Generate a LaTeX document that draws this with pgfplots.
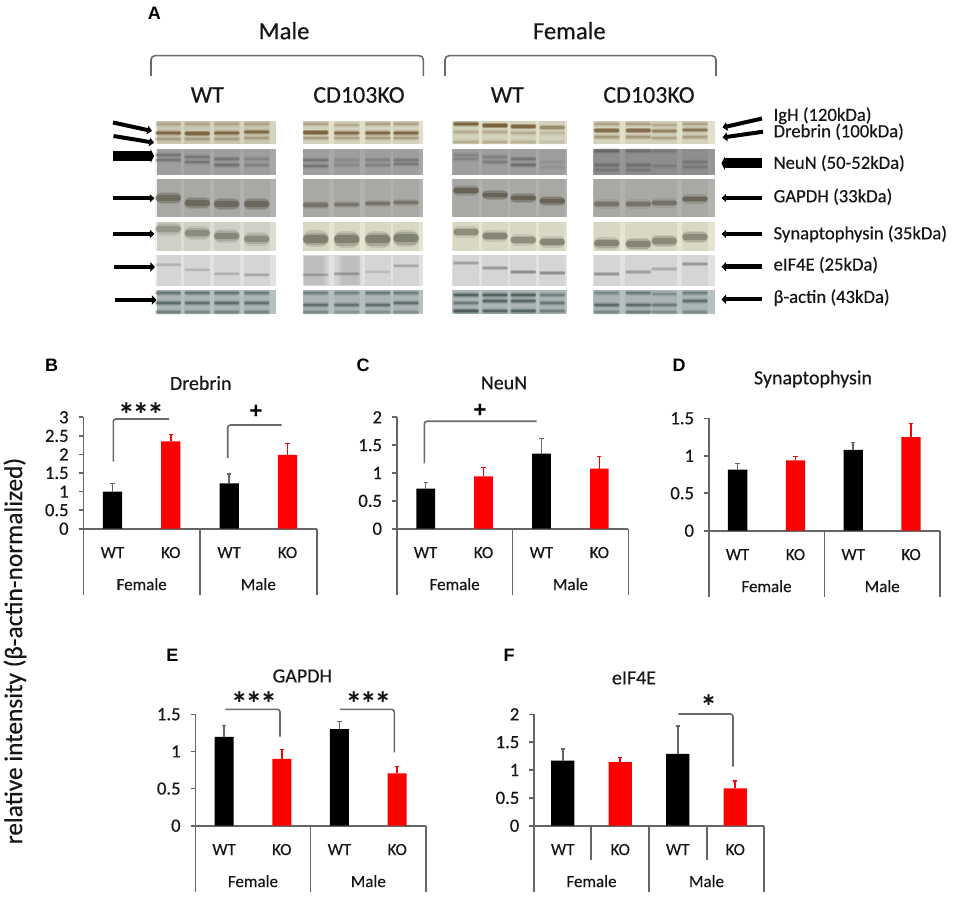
\documentclass[border=0pt]{standalone}
\usepackage{fontspec}
\usepackage{pgfplots}
\pgfplotsset{compat=1.18}
\usetikzlibrary{arrows.meta}
\setmainfont{Carlito}[FakeBold=0.35]
\newfontfamily\arialf{Liberation Sans}
\newfontfamily\djv{DejaVu Sans}
\newcommand\fs[1]{\fontsize{#1pt}{#1pt}\selectfont}
\definecolor{axg}{HTML}{666666}
\definecolor{txt}{HTML}{161616}
\definecolor{brk}{HTML}{6A6A6A}
\definecolor{dreb}{HTML}{D6D4BE}
\definecolor{drebk}{HTML}{E0DFC9}
\definecolor{neun}{HTML}{A8A9A6}
\definecolor{gapd}{HTML}{B2B2AF}
\definecolor{syna}{HTML}{DDDDD3}
\definecolor{synb}{HTML}{E6E5D1}
\definecolor{eif}{HTML}{E2E2E4}
\definecolor{act}{HTML}{B6C0C0}
\definecolor{brwn}{HTML}{6A4E28}
\definecolor{ngr}{HTML}{565656}
\definecolor{ggr}{HTML}{5C5648}
\definecolor{sgr}{HTML}{6B6C5A}
\definecolor{egr}{HTML}{6E6E6E}
\definecolor{agr}{HTML}{35484A}
\newcommand\panel[9]{%
\pgfmathsetmacro\pw{(#2-#1)*0.75}%
\pgfmathsetmacro\ph{(#3-#4)*0.75}%
\pgfmathsetmacro\px{#1*0.75}%
\pgfmathsetmacro\py{-#3*0.75}%
\pgfmathsetmacro\bw{#7*0.75}%
\begin{axis}[at={(\px pt,\py pt)},anchor=origin,scale only axis,width=\pw pt,height=\ph pt,
 xmin=0,xmax=4,ymin=0,ymax=#5,clip=false,
 axis x line=bottom,axis y line=left,axis line style={-,axg,line width=1.2pt},
 xtick={0.5,1.5,2.5,3.5},xticklabels={WT,KO,WT,KO},
 ytick={#6},tick align=outside,major tick length=3.5pt,
 xtick style={draw=none},ytick style={axg,line width=1.2pt},
 /pgf/number format/assume math mode=true,
 yticklabel style={font=\fs{14},text=txt,xshift=-4pt},
 xticklabel style={font=\fs{12.75},text=txt,anchor=base,yshift=-18.5pt},
 bar shift=0pt,
]
\addplot[ybar,bar width=\bw pt,fill=black,draw=none,
 error bars/.cd,y dir=plus,y explicit,
 error bar style={color=axg,line width=1.2pt},
 error mark options={rotate=90,mark size=1.6pt,axg,line width=1pt}] coordinates {#8};
\addplot[ybar,bar width=\bw pt,fill=red,draw=none,
 error bars/.cd,y dir=plus,y explicit,
 error bar style={color=red,line width=1.2pt},
 error mark options={rotate=90,mark size=1.6pt,red,line width=1pt}] coordinates {#9};
\draw[axg,line width=1.2pt] (axis cs:0,0) -- ([yshift=-49.5pt]axis cs:0,0);
\draw[axg,line width=1.2pt] (axis cs:2,0) -- ([yshift=-49.5pt]axis cs:2,0);
\draw[axg,line width=1.2pt] (axis cs:4,0) -- ([yshift=-49.5pt]axis cs:4,0);
\node[font=\fs{12.75},text=txt,anchor=base] at ([yshift=-46pt]axis cs:1,0) {Female};
\node[font=\fs{12.75},text=txt,anchor=base] at ([yshift=-46pt]axis cs:3,0) {Male};
\end{axis}}
% blurred band on the blots
\newcommand\band[5]{%
\draw[#4,line cap=round,line width={#3*1.7*0.75pt},opacity={0.22*#5}] (#1-13+0.85*#3,#2) -- (#1+13-0.85*#3,#2);
\draw[#4,line cap=round,line width={#3*1.25*0.75pt},opacity={0.35*#5}] (#1-13+0.625*#3,#2) -- (#1+13-0.625*#3,#2);
\draw[#4,line cap=round,line width={#3*0.8*0.75pt},opacity={0.7*#5}] (#1-12.5+0.4*#3,#2) -- (#1+12.5-0.4*#3,#2);}
\newcommand\blotbg[6]{%
\fill[#5] (#1,#2) rectangle (#3,#4);
\foreach \c in #6 {\fill[black,opacity=0.055] (\c-13,#2) rectangle (\c+13,#4);}}
\newcommand\LMW{168.3,197.3,226.7,256.7}
\newcommand\LMK{315.7,346.7,377.7,406}
\newcommand\LFW{466,495,523.3,552.3}
\newcommand\LFK{606.7,638.3,664.3,695}
\newcommand\bands[3]{\foreach \cx/\cy/\st in {#3}{\band{\cx}{\cy}{#1}{#2}{\st}}}
\newcommand\stars[3]{\node[text=txt,inner sep=0pt] at (#1,#2) {\fs{13}\djv\bfseries #3};}
\newcommand\plusm[2]{\node[text=black,inner sep=0pt] at (#1,#2) {\fs{17}\arialf\bfseries +};}
\newcommand\pl[3]{\node[text=black,inner sep=0pt] at (#1,#2) {\fs{13.5}\arialf\bfseries #3};}
\newcommand\titl[3]{\node[font=\fs{15},text=txt] at (#1,#2) {#3};}
\begin{document}
\begin{tikzpicture}
\begin{scope}[x=0.75pt,y=-0.75pt]
\path[use as bounding box,fill=white] (0,0) rectangle (957,898);
\pl{154.3}{13.3}{A}
\foreach \tx/\lab in {284/Male,569.3/Female}{\node[font=\fs{18.5},text=txt] at (\tx,30.7) {\lab};}
\foreach \tx/\lab in {207.3/WT,359/CD103KO,507.3/WT,649/CD103KO}{\node[font=\fs{18},text=txt] at (\tx,95) {\lab};}
\draw[brk,line width=1.2pt,rounded corners=3pt] (151,76) -- (151,55.7) -- (423.3,55.7) -- (423.3,76);
\draw[brk,line width=1.2pt,rounded corners=3pt] (445,76) -- (445,55.7) -- (716,55.7) -- (716,76);
% blot backgrounds
\blotbg{156.7}{121}{276}{144.3}{dreb}{\LMW}
\blotbg{303.3}{121}{422.7}{144.3}{drebk}{\LMK}
\blotbg{452}{121}{566.7}{144.3}{drebk}{\LFW}
\blotbg{592.7}{121}{715}{144.3}{drebk}{\LFK}
\blotbg{156.7}{149}{276}{175}{neun}{\LMW}
\blotbg{303.3}{149}{422.7}{175}{neun}{\LMK}
\blotbg{452}{149}{566.7}{175}{neun}{\LFW}
\blotbg{592.7}{149}{715}{175}{neun!90!black}{\LFK}
\blotbg{156.7}{179.3}{276}{217.3}{gapd}{\LMW}
\blotbg{303.3}{179.3}{422.7}{217.3}{gapd}{\LMK}
\blotbg{452}{179.3}{566.7}{217.3}{gapd}{\LFW}
\blotbg{592.7}{179.3}{715}{217.3}{gapd}{\LFK}
\blotbg{156.7}{221.7}{276}{250.7}{syna}{\LMW}
\blotbg{303.3}{221.7}{422.7}{250.7}{synb}{\LMK}
\blotbg{452}{221.7}{566.7}{250.7}{synb}{\LFW}
\blotbg{592.7}{221.7}{715}{250.7}{synb}{\LFK}
\blotbg{156.7}{255.3}{276}{285.7}{eif}{\LMW}
\blotbg{303.3}{255.3}{422.7}{285.7}{eif}{\LMK}
\blotbg{452}{255.3}{566.7}{285.7}{eif}{\LFW}
\blotbg{592.7}{255.3}{715}{285.7}{eif}{\LFK}
\blotbg{156.7}{290}{276}{314.3}{act}{\LMW}
\blotbg{303.3}{290}{422.7}{314.3}{act}{\LMK}
\blotbg{452}{290}{566.7}{314.3}{act}{\LFW}
\blotbg{592.7}{290}{715}{314.3}{act}{\LFK}
% smears on eIF4E
\foreach \wa in {0,2,4}{
 \fill[black,opacity=0.035] (304,256) rectangle (327-\wa,285);
 \fill[black,opacity=0.035] (338+\wa,256) rectangle (362-\wa,285);}
% Drebrin bands
\bands{3}{brwn}{168.3/124/.25,197.3/124/.25,226.7/124/.25,256.7/124/.25,168.3/139/.3,197.3/139/.3,226.7/139/.3,256.7/138/.3,315.7/124/.3,346.7/125/.25,377.7/124/.3,406/124/.3,315.7/138/.35,346.7/138/.3,377.7/138/.35,406/138/.35}
\bands{3.5}{brwn}{168.3/133/.9,197.3/133.5/.9,226.7/133/.9,256.7/132/.9,315.7/132.5/.95,346.7/133/.9,377.7/133/.95,406/133/.95}
\bands{3.5}{brwn}{466/124/1,495/125.5/1,523.3/126.5/.9,552.3/127.5/.5,606.7/130.5/.8,638.3/130.5/.8,664.3/131/.6,695/130/.75}
\bands{3}{brwn}{466/132/.25,495/132/.25,523.3/133/.25,552.3/133/.15,466/142/.25,495/142/.25,523.3/142/.2,552.3/142/.1,606.7/124/.3,638.3/124/.3,664.3/125/.25,695/124/.3,606.7/137/.4,638.3/137/.4,664.3/138/.3,695/137/.35}
% NeuN bands
\bands{3}{ngr}{168.3/155/.55,168.3/160/.55,197.3/157/.5,197.3/162/.5,226.7/159/.55,226.7/165/.6,256.7/159/.3,256.7/165/.35,315.7/160/.55,315.7/166/.55,346.7/160/.25,346.7/165/.25,377.7/160/.35,377.7/165/.35,406/160/.45,406/164/.45}
\bands{3}{ngr}{466/155/.3,466/159/.3,495/157/.35,495/162/.4,523.3/159/.55,523.3/165/.65,552.3/162/.12,552.3/167/.12,606.7/151/.75,638.3/151/.55,664.3/151/.3,606.7/165/.55,606.7/170/.35,638.3/165/.55,638.3/170/.35,664.3/166/.25,695/162/.35,695/167/.35}
% GAPDH bands
\bands{7.5}{ggr}{168.3/198/.8,197.3/203/.85,226.7/204/.85,256.7/204/.85}
\bands{4.5}{ggr}{315.7/205/.65,346.7/204.5/.6,377.7/203.5/.65,406/202.5/.6}
\bands{6}{ggr}{466/190.5/1,495/195/1,523.3/198/1,552.3/201/1}
\bands{5.5}{ggr}{606.7/204/.65,638.3/204/.65,664.3/203/.7,695/199/.9}
% Synaptophysin bands
\bands{8}{sgr}{168.3/229/.55,197.3/233/.7,226.7/236/.75,256.7/239/.7}
\bands{10}{sgr}{315.7/239/.95,346.7/239.5/.9,377.7/239.5/.9,406/238.5/.9}
\bands{6.5}{sgr}{466/232/.7,495/236/.8,523.3/240/.7,552.3/242/.8}
\bands{7.5}{sgr}{606.7/243.5/.85,638.3/244/.85,664.3/241/.75,695/237/.75}
% eIF4E bands
\bands{2.4}{egr}{168.3/265/.3,197.3/270/.25,226.7/274/.3,256.7/275/.4,315.7/275/.4,346.7/274/.5,377.7/272/.2,406/266/.4}
\bands{2.8}{egr}{466/263/.45,495/268/.55,523.3/272/.7,552.3/273/.7,606.7/274/.6,638.3/272/.5,664.3/269/.35,695/264/.55}
% beta-actin bands
\bands{3.5}{agr}{168.3/293/.55,197.3/293/.55,226.7/293/.55,256.7/293/.5,315.7/293/.45,346.7/293/.4,377.7/293/.5,406/293/.45,168.3/303/.7,197.3/303/.65,226.7/303/.7,256.7/303/.65,315.7/305/.65,346.7/305/.6,377.7/305/.65,406/303/.65,168.3/312/.45,197.3/312/.35,226.7/312/.4,256.7/312/.4,315.7/312/.35,346.7/312/.25,377.7/312/.3,406/312/.3}
\bands{3.5}{agr}{466/295/.8,495/295/.8,523.3/295/.8,552.3/295/.45,466/311/.95,495/311/.75,523.3/311/.8,552.3/311/.45,466/303/.5,495/301/.75,523.3/301/.75,552.3/303/.55,606.7/293/.35,638.3/293/.5,664.3/294/.3,695/293/.45,606.7/305/.7,638.3/305/.65,664.3/305/.5,695/301/.65,606.7/312/.35,638.3/312/.45,664.3/312/.3,695/312/.35}
% left arrows
\draw[black,line width=3pt,-{Triangle[length=3.5pt,width=6.5pt]}] (113,122.5) -- (152,131);
\draw[black,line width=3pt,-{Triangle[length=3.5pt,width=6.5pt]}] (113.5,136) -- (154,142.7);
\draw[black,line width=7.5pt,-{Triangle[length=2.5pt,width=10pt]}] (113,156) -- (154,156);
\draw[black,line width=2.8pt,-{Triangle[length=3.5pt,width=6pt]}] (113,198.3) -- (154.5,198.3);
\draw[black,line width=2.8pt,-{Triangle[length=3.5pt,width=6pt]}] (113,234) -- (154.5,234);
\draw[black,line width=3.3pt,-{Triangle[length=3.5pt,width=7pt]}] (114,267) -- (155,267);
\draw[black,line width=3.3pt,-{Triangle[length=3.5pt,width=7pt]}] (115,300) -- (156.5,300);
% right arrows
\draw[black,line width=3pt,-{Triangle[length=3.5pt,width=6.5pt]}] (762,118.5) -- (722.5,127.5);
\draw[black,line width=3pt,-{Triangle[length=3.5pt,width=6.5pt]}] (763,131.7) -- (722.5,137.5);
\draw[black,line width=7.5pt,-{Triangle[length=2.5pt,width=10pt]}] (762,163.3) -- (721.5,163.3);
\draw[black,line width=2.8pt,-{Triangle[length=3.5pt,width=6pt]}] (762,198) -- (721.5,198);
\draw[black,line width=2.8pt,-{Triangle[length=3.5pt,width=6pt]}] (762,234) -- (721.5,234);
\draw[black,line width=3.3pt,-{Triangle[length=3.5pt,width=7pt]}] (762,266.7) -- (721.5,266.7);
\draw[black,line width=3.3pt,-{Triangle[length=3.5pt,width=7pt]}] (762,299.3) -- (721.5,299.3);
% right labels
\foreach \ty/\lab in {115.7/IgH (120kDa),131.7/Drebrin (100kDa),163.3/NeuN (50-52kDa),196.7/GAPDH (33kDa),234/Synaptophysin (35kDa),265/eIF4E (25kDa),297.7/β-actin (43kDa)}{
 \node[font=\fs{14},text=txt,anchor=west,inner sep=0pt] at (773.3,\ty) {\lab};}
% y label
\node[font=\fs{19},text=txt,rotate=90] at (15,651) {relative intensity (β-actin-normalized)};
% panel letters and titles
\pl{51.7}{365.7}{B}\pl{363}{365.7}{C}\pl{679}{365.7}{D}\pl{172.3}{655.7}{E}\pl{509}{655.7}{F}
\titl{200.7}{383}{Drebrin}\titl{504}{383}{NeuN}\titl{813}{379}{Synaptophysin}\titl{302.3}{676}{GAPDH}\titl{634}{678}{eIF4E}
% brackets and significance marks
\draw[brk,line width=1.2pt,rounded corners=2pt] (113.3,461.7) -- (113.3,419) -- (169,419);
\draw[brk,line width=1.2pt,rounded corners=2pt] (227.7,458) -- (227.7,425) -- (281.7,425);
\stars{141}{408}{∗∗∗}\plusm{256}{412}
\draw[brk,line width=1.2pt,rounded corners=2pt] (424.3,463.3) -- (424.3,421.3) -- (536.7,421.3);
\plusm{480}{410.7}
\draw[brk,line width=1.2pt,rounded corners=2pt] (225.3,709.3) -- (280,709.3) -- (280,736.7);
\draw[brk,line width=1.2pt,rounded corners=2pt] (340,709.3) -- (394.3,709.3) -- (394.3,752.3);
\stars{254}{697.3}{∗∗∗}\stars{368.3}{697.3}{∗∗∗}
\draw[brk,line width=1.2pt,rounded corners=2pt] (678.3,714) -- (733,714) -- (733,766.7);
\stars{708.7}{700}{∗}
% extra separators of panel F
\draw[axg,line width=1.2pt] (591,825.7) -- (591,860);
\draw[axg,line width=1.2pt] (706.7,825.7) -- (706.7,860);
\end{scope}
% B Drebrin
\panel{83.3}{316.7}{528.7}{417.3}{3}{0,0.5,1,1.5,2,2.5,3}{19.3}
 {(0.5,1.0) += (0,0.22) (2.5,1.22) += (0,0.25)}
 {(1.5,2.35) += (0,0.18) (3.5,1.99) += (0,0.31)}
% C NeuN
\panel{396.7}{628.3}{528.7}{417.3}{2}{0,0.5,1,1.5,2}{18.7}
 {(0.5,0.72) += (0,0.11) (2.5,1.35) += (0,0.27)}
 {(1.5,0.94) += (0,0.16) (3.5,1.08) += (0,0.22)}
% D Synaptophysin
\panel{708.7}{940}{530.7}{418.3}{1.5}{0,0.5,1,1.5}{19.3}
 {(0.5,0.815) += (0,0.08) (2.5,1.08) += (0,0.10)}
 {(1.5,0.94) += (0,0.05) (3.5,1.25) += (0,0.18)}
% E GAPDH
\panel{195.3}{426}{825.7}{714.3}{1.5}{0,0.5,1,1.5}{19}
 {(0.5,1.195) += (0,0.155) (2.5,1.30) += (0,0.10)}
 {(1.5,0.90) += (0,0.13) (3.5,0.705) += (0,0.09)}
% F eIF4E
\panel{534}{764}{825.7}{714.3}{2}{0,0.5,1,1.5,2}{23.3}
 {(0.5,1.17) += (0,0.205) (2.5,1.29) += (0,0.50)}
 {(1.5,1.14) += (0,0.09) (3.5,0.67) += (0,0.13)}
\end{tikzpicture}
\end{document}
